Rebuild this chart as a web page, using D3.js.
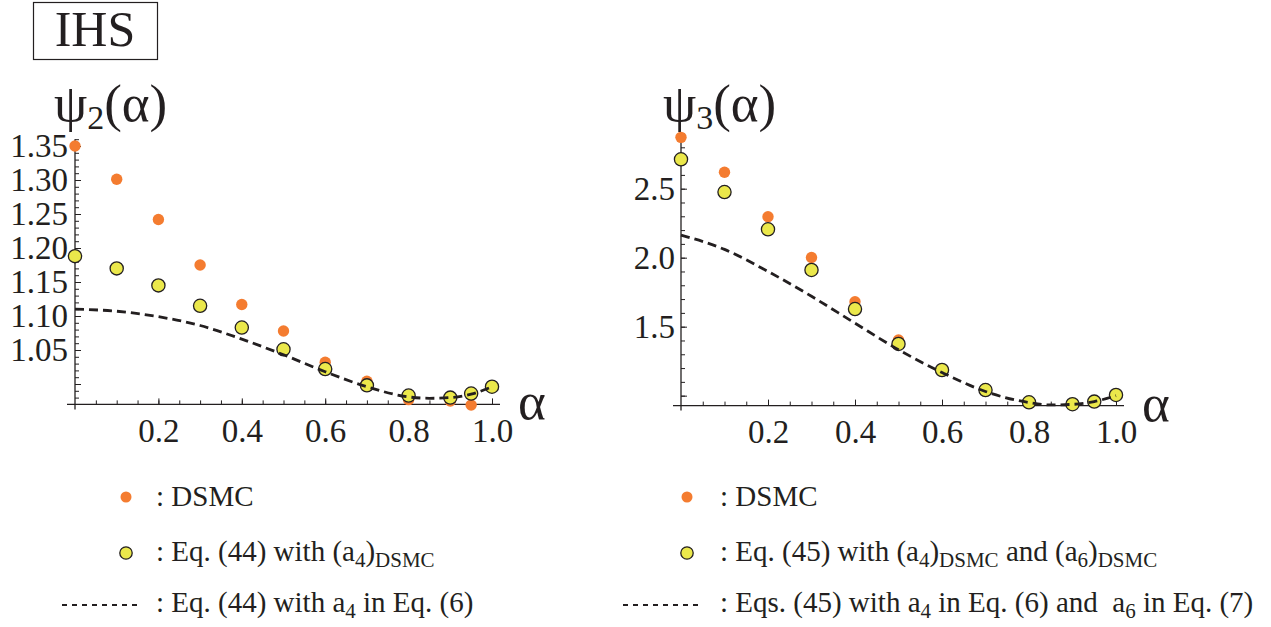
<!DOCTYPE html>
<html>
<head>
<meta charset="utf-8">
<script src="https://cdn.jsdelivr.net/npm/d3@7"></script>
<style>
  html, body { margin: 0; padding: 0; background: #fff; }
  svg { display: block; }
  text { font-family: "Liberation Serif", "DejaVu Serif", serif; fill: #231f20; }
</style>
</head>
<body>
<svg id="chart" width="1271" height="627"></svg>
<script>
// ---------------- data ----------------
const alphaPts = [0, 0.1, 0.2, 0.3, 0.4, 0.5, 0.6, 0.7, 0.8, 0.9, 0.95, 1.0];
const psi2DSMC = [1.350, 1.301, 1.242, 1.175, 1.117, 1.078, 1.032, 1.004, 0.977, 0.975, 0.969, 0.996];
const psi2Eq44 = [1.188, 1.170, 1.145, 1.115, 1.083, 1.051, 1.022, 0.998, 0.983, 0.980, 0.986, 0.996];
const psi3DSMC = [2.872, 2.619, 2.297, 2.001, 1.681, 1.404, 1.19, 1.05, 0.955, 0.94, 0.955, 1.0];
const psi3Eq45 = [2.713, 2.476, 2.206, 1.911, 1.628, 1.375, 1.186, 1.041, 0.952, 0.938, 0.957, 1.005];
const alphaCurve = [0, 0.1, 0.2, 0.3, 0.4, 0.5, 0.6, 0.7, 0.8, 0.85, 0.9, 0.95, 1.0];
const psi2Theory = [1.110, 1.107, 1.099, 1.086, 1.066, 1.043, 1.018, 0.996, 0.981, 0.979, 0.980, 0.985, 0.996];
const psi3Theory = [2.164, 2.06, 1.90, 1.72, 1.525, 1.333, 1.168, 1.030, 0.950, 0.933, 0.937, 0.957, 1.0];
const xTickLabels = [0.2, 0.4, 0.6, 0.8, 1.0];
const xMinorTicks = d3.range(1, 21).map(i => i * 0.05);
const y2TickLabels = [1.05, 1.10, 1.15, 1.20, 1.25, 1.30, 1.35];
const y2MajorTicks = [1.00, 1.05, 1.10, 1.15, 1.20, 1.25, 1.30, 1.35];
const y2MinorTicks = d3.range(98, 137).map(i => i / 100);
const y3TickLabels = [1.5, 2.0, 2.5];
const y3MajorTicks = [1.0, 1.5, 2.0, 2.5];
const y3MinorTicks = d3.range(10, 30).map(i => i / 10);

const ORANGE = "#f47c30";
const YELLOW = "#ebe84b";
const INK = "#231f20";
const SERIF = '"Liberation Serif", "DejaVu Serif", serif';

const svg = d3.select("#chart");
svg.append("rect").attr("width", 1271).attr("height", 627).attr("fill", "#fff");

// Title box
svg.append("rect").attr("x", 33.5).attr("y", 2.5).attr("width", 124).attr("height", 57)
  .attr("fill", "none").attr("stroke", INK).attr("stroke-width", 1.2);
svg.append("text").attr("x", 95).attr("y", 46).attr("text-anchor", "middle")
  .attr("font-size", 50).attr("font-family", SERIF).text("IHS");

function panel(cfg) {
  const x = d3.scaleLinear().domain([0, 1]).range(cfg.xRange);
  const y = d3.scaleLinear().domain(cfg.yDomain).range(cfg.yRange);
  const y0 = y(cfg.yDomain[0]);
  const g = svg.append("g");

  g.append("g").attr("transform", `translate(0,${y0})`)
    .call(d3.axisBottom(x).tickValues(xMinorTicks).tickSize(-4).tickFormat(""))
    .call(s => s.select(".domain").remove())
    .call(s => s.selectAll("line").attr("stroke", INK).attr("stroke-width", 1));
  g.append("g").attr("transform", `translate(0,${y0})`)
    .call(d3.axisBottom(x).tickValues(xTickLabels).tickSize(-6).tickPadding(14).tickFormat(d3.format(".1f")))
    .call(s => s.select(".domain").remove())
    .call(s => s.selectAll("line").attr("stroke", INK).attr("stroke-width", 1))
    .call(s => s.selectAll("text").attr("font-size", 33).attr("fill", INK).style("font-family", SERIF));

  g.append("g").attr("transform", `translate(${x(0)},0)`)
    .call(d3.axisLeft(y).tickValues(cfg.yMinor).tickSize(-4).tickFormat(""))
    .call(s => s.select(".domain").remove())
    .call(s => s.selectAll("line").attr("stroke", INK).attr("stroke-width", 1));
  g.append("g").attr("transform", `translate(${x(0)},0)`)
    .call(d3.axisLeft(y).tickValues(cfg.yMajor).tickSize(-6).tickFormat(""))
    .call(s => s.select(".domain").remove())
    .call(s => s.selectAll("line").attr("stroke", INK).attr("stroke-width", 1));
  g.append("g").attr("transform", `translate(${x(0)},0)`)
    .call(d3.axisLeft(y).tickValues(cfg.yLabels).tickSize(0).tickPadding(cfg.yPad).tickFormat(d3.format(cfg.yFmt)))
    .call(s => s.select(".domain").remove())
    .call(s => s.selectAll("text").attr("font-size", 33).attr("fill", INK).style("font-family", SERIF));

  g.append("line").attr("x1", x(0) - 8).attr("x2", x(1) + 8).attr("y1", y0).attr("y2", y0)
    .attr("stroke", INK).attr("stroke-width", 1.3);
  g.append("line").attr("x1", x(0)).attr("x2", x(0)).attr("y1", y(cfg.yDomain[1])).attr("y2", y0 + 5)
    .attr("stroke", INK).attr("stroke-width", 1.3);

  g.append("text").attr("x", x(1) + 26).attr("y", y0 + 15).attr("font-size", 53)
    .attr("font-family", SERIF).text("α");
  const t = g.append("text").attr("x", cfg.titleX).attr("y", 121).attr("font-size", 53)
    .attr("font-family", SERIF);
  t.append("tspan").text("ψ");
  t.append("tspan").attr("font-size", 34).attr("dy", 8).text(cfg.sub);
  t.append("tspan").attr("dy", -8).text("(α)");

  g.append("g").selectAll("circle").data(alphaPts).join("circle")
    .attr("cx", d => x(d)).attr("cy", (d, i) => y(cfg.dsmc[i])).attr("r", 5.7)
    .attr("fill", ORANGE);
  g.append("g").selectAll("circle").data(alphaPts).join("circle")
    .attr("cx", d => x(d)).attr("cy", (d, i) => y(cfg.eq[i])).attr("r", 6.6)
    .attr("fill", YELLOW).attr("stroke", INK).attr("stroke-width", 1.3);
  const line = d3.line().x(d => x(d[0])).y(d => y(d[1])).curve(d3.curveMonotoneX);
  g.append("path").datum(alphaCurve.map((a, i) => [a, cfg.theory[i]]))
    .attr("d", line).attr("fill", "none").attr("stroke", INK)
    .attr("stroke-width", 2.8).attr("stroke-dasharray", "9,5");
}

panel({
  xRange: [75, 492], yDomain: [0.97, 1.36], yRange: [404.4, 139.2],
  yMinor: y2MinorTicks, yMajor: y2MajorTicks, yLabels: y2TickLabels, yFmt: ".2f", yPad: 7,
  dsmc: psi2DSMC, eq: psi2Eq44, theory: psi2Theory, sub: "2", titleX: 54
});
panel({
  xRange: [681, 1116], yDomain: [0.928, 2.9], yRange: [405.6, 133.5],
  yMinor: y3MinorTicks, yMajor: y3MajorTicks, yLabels: y3TickLabels, yFmt: ".1f", yPad: 6,
  dsmc: psi3DSMC, eq: psi3Eq45, theory: psi3Theory, sub: "3", titleX: 663
});

// ---------------- legends ----------------
function legend(ox, textX, lines) {
  const g = svg.append("g");
  g.append("circle").attr("cx", ox).attr("cy", 497).attr("r", 5.5).attr("fill", ORANGE);
  g.append("circle").attr("cx", ox).attr("cy", 553).attr("r", 6.2)
    .attr("fill", YELLOW).attr("stroke", INK).attr("stroke-width", 1.3);
  g.append("line").attr("x1", ox - 64).attr("x2", ox + 14).attr("y1", 605).attr("y2", 605)
    .attr("stroke", INK).attr("stroke-width", 2).attr("stroke-dasharray", "5,5");
  const ys = [506, 561, 612];
  lines.forEach((parts, i) => {
    const t = g.append("text").attr("x", textX).attr("y", ys[i]).attr("font-size", 29)
      .attr("font-family", SERIF).style("white-space", "pre");
    let pending = 0;
    parts.forEach(p => {
      if (typeof p === "string") {
        t.append("tspan").attr("dy", pending).text(p);
        pending = 0;
      } else {
        t.append("tspan").attr("font-size", 21).attr("dy", 6 + pending).text(p.sub);
        pending = -6;
      }
    });
  });
}

legend(126, 156, [
  [": DSMC"],
  [": Eq. (44) with (a", {sub: "4"}, ")", {sub: "DSMC"}],
  [": Eq. (44) with a", {sub: "4"}, " in Eq. (6)"]
]);
legend(687, 720, [
  [": DSMC"],
  [": Eq. (45) with (a", {sub: "4"}, ")", {sub: "DSMC"}, " and (a", {sub: "6"}, ")", {sub: "DSMC"}],
  [": Eqs. (45) with a", {sub: "4"}, " in Eq. (6) and  a", {sub: "6"}, " in Eq. (7)"]
]);
</script>
</body>
</html>
